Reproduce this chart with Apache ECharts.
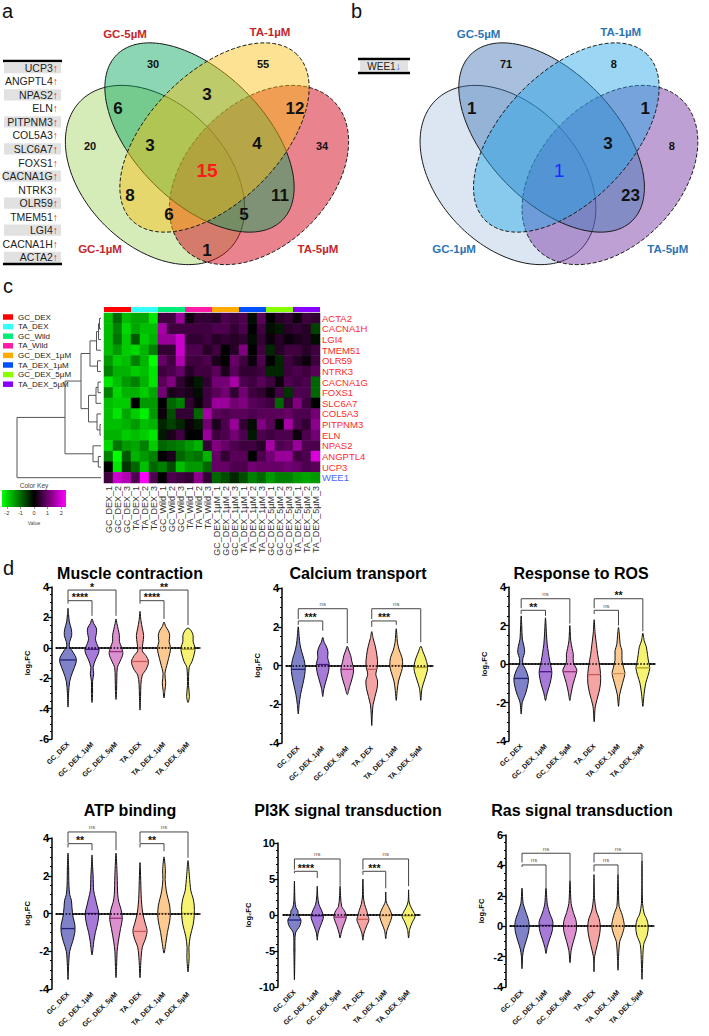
<!DOCTYPE html>
<html><head><meta charset="utf-8">
<script src="https://cdn.jsdelivr.net/npm/echarts@6/dist/echarts.min.js"></script>
<style>html,body{margin:0;padding:0;background:#fff}#c{width:709px;height:1036px}</style>
</head><body><div id="c"></div>
<script>
// ================= DATA =================
// Venn regions order: A,B,C,D,AB,BC,CD,AC,BD,AD,ABC,BCD,ACD,ABD,ABCD  (A=GC-1µM,B=GC-5µM,C=TA-1µM,D=TA-5µM)
const vennSetNames = ['GC-1µM','GC-5µM','TA-1µM','TA-5µM'];
const vennCountsUp = [20,30,55,34,6,3,12,8,11,1,3,4,6,5,15];
const vennCountsDown = [0,71,8,8,1,0,1,0,23,0,0,3,0,0,1];
const upGenes = ['UCP3','ANGPTL4','NPAS2','ELN','PITPNM3','COL5A3','SLC6A7','FOXS1','CACNA1G','NTRK3','OLR59','TMEM51','LGI4','CACNA1H','ACTA2'];
const downGenes = ['WEE1'];

const heatCols = ['GC_DEX_1','GC_DEX_2','GC_DEX_3','TA_DEX_1','TA_DEX_2','TA_DEX_3','GC_Wild_1','GC_Wild_2','GC_Wild_3','TA_Wild_1','TA_Wild_2','TA_Wild_3',
 'GC_DEX_1µM_1','GC_DEX_1µM_2','GC_DEX_1µM_3','TA_DEX_1µM_1','TA_DEX_1µM_2','TA_DEX_1µM_3','GC_DEX_5µM_1','GC_DEX_5µM_2','GC_DEX_5µM_3','TA_DEX_5µM_1','TA_DEX_5µM_2','TA_DEX_5µM_3'];
const heatRows = ['ACTA2','CACNA1H','LGI4','TMEM51','OLR59','NTRK3','CACNA1G','FOXS1','SLC6A7','COL5A3','PITPNM3','ELN','NPAS2','ANGPTL4','UCP3','WEE1'];
const heatValues = [
 [-1.5,-0.8,-1.5,-1.3,-1.3,-1.8, 0.5,0.5,1.2, 0.1,0.4,0.4, 0.3,0.6,0.5, 0.6,-0.1,0.7, 0.0,0.3,0.4, 0.1,0.5,0.4],
 [-1.5,-1.0,-1.7,-1.3,-1.5,-1.5, 1.3,0.5,0.5, 0.5,0.5,0.5, 0.6,0.6,0.4, 0.6,0.0,0.5, -0.1,-0.2,0.3, 0.4,0.3,-0.5],
 [-1.5,-0.9,-1.6,-0.7,-1.6,-1.4, 1.2,1.2,1.6, 0.4,0.4,0.5, 0.3,0.4,0.3, 0.4,-0.1,0.4, 0.1,0.3,0.1, 0.2,0.3,-0.1],
 [-1.5,-1.2,-1.6,-1.7,-1.4,-1.0, 0.4,0.4,1.6, 0.6,0.6,0.3, 0.5,0.0,0.3, 1.0,0.0,0.5, -0.3,0.3,0.5, 0.5,0.3,0.5],
 [-1.2,-1.6,-1.5,-1.0,-1.4,-2.0, 0.8,0.5,1.4, 0.5,0.5,0.6, 0.2,0.0,0.8, 0.5,0.1,0.6, 0.0,-0.3,0.5, 0.3,0.1,0.5],
 [-1.0,-1.4,-1.4,-1.6,-1.5,-1.8, 0.5,0.6,0.8, 0.3,0.5,0.5, 0.7,0.2,0.7, 0.4,0.4,0.5, -0.3,-0.3,0.5, 0.6,0.5,0.7],
 [-1.8,-1.5,-1.2,-1.0,-1.4,-1.8, 0.7,1.0,0.4, 0.1,-0.2,0.4, 0.9,0.9,1.3, 0.6,0.5,0.7, 0.5,0.1,0.6, 0.5,0.6,-0.8],
 [-1.0,-1.7,-1.4,-1.4,-1.6,-1.3, 0.9,0.2,0.3, 0.2,-0.1,0.5, 0.7,0.9,0.4, 0.9,0.5,0.4, 0.1,0.5,-0.4, 0.6,0.6,-0.8],
 [-1.5,-1.6,-1.6,0.0,-1.2,-1.2, 0.0,-0.8,-1.0, 0.4,0.1,0.5, 1.2,1.2,0.9, 1.0,0.7,0.6, 0.5,-0.8,0.4, 1.0,0.5,0.0],
 [-1.5,-1.8,-1.3,-1.6,-1.9,-1.2, 0.1,-0.6,0.4, 0.4,-0.8,1.3, 0.7,0.6,0.7, 0.7,0.6,0.7, 0.7,0.7,0.8, 0.6,0.6,0.9],
 [-1.5,-1.5,-1.4,-1.2,-1.5,-1.4, -0.3,-0.5,-0.3, 0.1,-0.2,0.9, 0.2,0.6,1.2, 0.4,-0.1,1.0, 0.7,0.0,1.3, 0.6,0.4,1.1],
 [-1.4,-1.4,-1.6,-1.5,-1.6,-1.8, -0.2,0.2,0.5, 0.0,0.0,1.2, 0.5,0.6,0.9, 0.6,-0.2,0.6, 0.5,0.6,0.6, 0.1,0.6,0.9],
 [-1.7,-0.9,-1.2,-1.3,-1.0,-1.6, -0.8,-0.9,-1.0, -1.2,-1.4,0.4, 1.0,0.8,0.6, 0.5,0.5,0.3, 1.3,0.6,0.7, 1.2,0.6,0.6],
 [-1.0,-2.0,-0.7,-1.4,-1.2,-1.0, 0.0,0.2,-0.8, -1.0,-0.9,-1.4, 0.8,0.4,0.7, 0.7,0.0,0.6, 0.9,1.2,1.2, 0.5,0.6,1.7],
 [0.0,-1.8,-0.4,-0.8,-1.5,-0.8, -1.0,-0.6,-1.5, -1.2,-1.2,-0.8, 0.8,0.8,0.6, 0.6,0.9,0.8, 0.8,0.8,0.9, 0.8,0.6,0.7],
 [0.5,1.6,1.4,0.6,2.0,0.6, 0.0,0.6,0.5, 0.4,1.1,0.4, -0.8,-0.6,-0.3, -0.6,-1.0,-0.8, -1.2,-1.0,-1.0, -1.2,-1.3,-1.2]
];
const heatGroups = ['GC_DEX','TA_DEX','GC_Wild','TA_Wild','GC_DEX_1µM','TA_DEX_1µM','GC_DEX_5µM','TA_DEX_5µM'];
const heatColGroup = [0,0,0,1,1,1,2,2,2,3,3,3,4,4,4,5,5,5,6,6,6,7,7,7];
// dendrogram merges: [left, right, height]; 0-15 = leaf rows, 100+k = k-th merge
const dendroMerges = [
 [0,1,1.5],[100,2,2.5],[101,3,4.5],[4,5,3.5],[102,103,11],
 [6,7,3],[105,8,5],[10,11,1],[9,107,4],[106,108,12.5],
 [104,109,20],[13,14,2.7],[12,111,8],[110,112,36],[113,15,84]
];
const colorKeyTicks = [-2,-1,0,1,2];

const violinCats = ['GC_DEX','GC_DEX_1µM','GC_DEX_5µM','TA_DEX','TA_DEX_1µM','TA_DEX_5µM'];
// violin profiles: [log2FC, relative half width]
const muscleViolins = [
 [[-3.9,0],[-3.0,0.05],[-2.2,0.15],[-1.6,0.4],[-1.0,0.7],[-0.7,0.72],[-0.3,0.45],[0.1,0.12],[0.4,0.15],[0.8,0.32],[1.2,0.3],[1.7,0.12],[2.2,0.05],[2.6,0]],
 [[-3.6,0],[-3.0,0.05],[-2.2,0.05],[-1.7,0.15],[-1.3,0.1],[-0.8,0.3],[-0.4,0.55],[-0.1,0.62],[0.3,0.4],[0.6,0.3],[1.0,0.4],[1.3,0.38],[1.6,0.15],[1.9,0]],
 [[-3.4,0],[-2.8,0.05],[-2.0,0.07],[-1.3,0.12],[-0.9,0.35],[-0.4,0.6],[0.0,0.5],[0.4,0.3],[0.8,0.3],[1.2,0.2],[1.6,0.08],[1.9,0]],
 [[-4.1,0],[-3.2,0.05],[-2.4,0.08],[-1.8,0.2],[-1.4,0.55],[-0.9,0.75],[-0.5,0.5],[-0.2,0.2],[0.3,0.25],[0.8,0.32],[1.3,0.2],[1.8,0.08],[2.4,0]],
 [[-3.3,0],[-2.8,0.08],[-2.3,0.15],[-1.7,0.08],[-1.0,0.3],[-0.4,0.5],[0.0,0.58],[0.4,0.45],[0.8,0.5],[1.1,0.4],[1.4,0.15],[1.7,0]],
 [[-3.6,0],[-3.2,0.12],[-2.5,0.05],[-1.3,0.1],[-0.9,0.35],[-0.4,0.55],[0.0,0.62],[0.4,0.45],[0.8,0.45],[1.1,0.3],[1.3,0]]
];
const muscleMedians = [-0.8,-0.1,-0.25,-0.9,0.0,-0.1];
const muscleSig = [[0,1,3.1,2.9,2.1,'****'],[0,2,3.8,3.1,2.1,'*'],[3,4,3.1,2.9,1.9,'****'],[3,5,3.8,3.1,1.5,'**']];

const calciumViolins = [
 [[-2.5,0],[-2.0,0.08],[-1.5,0.2],[-1.0,0.38],[-0.5,0.55],[-0.1,0.6],[0.3,0.5],[0.7,0.3],[1.1,0.15],[1.5,0.08],[2.0,0]],
 [[-1.6,0],[-1.2,0.1],[-0.8,0.28],[-0.3,0.5],[0.1,0.55],[0.4,0.42],[0.7,0.45],[1.0,0.3],[1.2,0.12],[1.45,0]],
 [[-1.5,0],[-1.1,0.2],[-0.6,0.45],[-0.2,0.55],[0.2,0.4],[0.5,0.3],[0.8,0.12],[1.0,0]],
 [[-3.1,0],[-2.5,0.05],[-2.0,0.12],[-1.2,0.45],[-0.8,0.5],[-0.45,0.35],[0.0,0.5],[0.5,0.45],[1.0,0.3],[1.4,0.12],[1.75,0]],
 [[-1.8,0],[-1.3,0.08],[-0.8,0.2],[-0.3,0.45],[0.0,0.55],[0.4,0.5],[0.8,0.25],[1.2,0.1],[1.6,0.05],[1.9,0]],
 [[-1.8,0],[-1.2,0.1],[-0.7,0.35],[-0.3,0.55],[0.0,0.58],[0.4,0.4],[0.7,0.2],[1.0,0]]
];
const calciumMedians = [-0.2,0.05,-0.2,-0.2,0.0,-0.1];
const calciumSig = [[0,1,2.3,2.1,1.8,'***'],[0,2,2.93,2.4,1.15,'ns'],[3,4,2.3,2.0,2.1,'***'],[3,5,2.93,2.4,1.2,'ns']];

const rosViolins = [
 [[-2.6,0],[-2.0,0.1],[-1.5,0.4],[-1.0,0.6],[-0.7,0.62],[-0.3,0.4],[0.0,0.15],[0.3,0.15],[0.6,0.3],[0.9,0.25],[1.3,0.1],[2.0,0.05],[2.5,0]],
 [[-1.9,0],[-1.5,0.15],[-1.0,0.4],[-0.5,0.55],[-0.2,0.5],[0.2,0.35],[0.6,0.25],[1.0,0.15],[1.6,0.08],[2.4,0]],
 [[-1.9,0],[-1.5,0.12],[-1.0,0.3],[-0.5,0.55],[-0.3,0.6],[0.1,0.3],[0.5,0.3],[0.8,0.2],[1.2,0.08],[2.0,0]],
 [[-3.0,0],[-2.2,0.1],[-1.5,0.4],[-1.0,0.55],[-0.5,0.55],[0.0,0.45],[0.5,0.3],[1.0,0.2],[1.6,0.08],[2.3,0]],
 [[-2.2,0],[-1.6,0.1],[-1.0,0.35],[-0.5,0.55],[-0.2,0.45],[0.2,0.3],[0.7,0.3],[1.0,0.15],[1.5,0.08],[1.9,0]],
 [[-2.2,0],[-1.6,0.1],[-1.0,0.25],[-0.6,0.45],[-0.2,0.6],[0.1,0.5],[0.5,0.4],[0.9,0.3],[1.2,0.12],[1.6,0]]
];
const rosMedians = [-0.75,-0.4,-0.4,-0.55,-0.5,-0.2];
const rosSig = [[0,1,2.79,2.6,2.5,'**'],[0,2,3.39,2.9,2.1,'ns'],[3,4,2.79,2.6,2.0,'ns'],[3,5,3.39,2.9,1.7,'**']];

const atpViolins = [
 [[-3.5,0],[-2.8,0.05],[-2.0,0.15],[-1.5,0.4],[-1.0,0.6],[-0.6,0.6],[-0.2,0.45],[0.3,0.35],[0.7,0.3],[1.0,0.15],[1.5,0.08],[2.5,0.05],[3.2,0]],
 [[-2.2,0],[-1.8,0.1],[-1.5,0.15],[-1.0,0.3],[-0.5,0.5],[0.0,0.6],[0.4,0.45],[0.8,0.3],[1.2,0.15],[2.0,0.1],[2.5,0.05],[3.1,0]],
 [[-3.4,0],[-2.8,0.05],[-2.0,0.1],[-1.5,0.2],[-0.8,0.4],[-0.3,0.55],[0.2,0.45],[0.6,0.25],[1.0,0.15],[2.0,0.1],[3.2,0]],
 [[-3.4,0],[-2.5,0.08],[-1.8,0.2],[-1.3,0.5],[-0.9,0.62],[-0.5,0.45],[0.0,0.25],[0.5,0.15],[1.0,0.1],[2.0,0.05],[2.7,0]],
 [[-2.1,0],[-1.6,0.15],[-1.0,0.3],[-0.4,0.5],[0.0,0.55],[0.4,0.5],[0.8,0.35],[1.2,0.2],[1.8,0.1],[2.3,0.12],[3.0,0]],
 [[-3.1,0],[-2.3,0.1],[-1.8,0.08],[-1.2,0.2],[-0.6,0.45],[-0.1,0.55],[0.4,0.55],[0.8,0.45],[1.2,0.25],[2.0,0.12],[2.8,0]]
];
const atpMedians = [-0.8,0.0,-0.25,-0.95,0.0,0.0];
const atpSig = [[0,1,3.7,3.5,3.35,'**'],[0,2,4.32,3.75,3.35,'ns'],[3,4,3.7,3.5,3.3,'**'],[3,5,4.32,3.75,2.95,'ns']];

const pi3kViolins = [
 [[-9.0,0],[-5.0,0.05],[-2.5,0.1],[-1.5,0.5],[-0.7,0.6],[0.0,0.35],[0.6,0.32],[1.0,0.15],[2.0,0.05],[4.7,0]],
 [[-3.5,0],[-2.5,0.08],[-1.5,0.3],[-0.5,0.55],[0.0,0.55],[0.8,0.35],[1.5,0.15],[2.5,0.05],[4.0,0]],
 [[-3.2,0],[-2.5,0.1],[-1.5,0.3],[-0.5,0.55],[0.0,0.55],[0.6,0.4],[1.2,0.15],[2.5,0.05],[4.0,0]],
 [[-3.5,0],[-2.5,0.1],[-1.5,0.35],[-0.7,0.55],[0.0,0.45],[0.6,0.35],[1.5,0.15],[2.5,0.05],[5.0,0]],
 [[-3.3,0],[-2.2,0.1],[-1.2,0.35],[-0.3,0.55],[0.3,0.5],[1.0,0.3],[1.8,0.05],[3.2,0]],
 [[-3.2,0],[-2.0,0.1],[-1.0,0.35],[-0.2,0.6],[0.3,0.5],[1.0,0.25],[1.8,0.05],[3.5,0]]
];
const pi3kMedians = [-0.7,-0.1,-0.3,-0.6,-0.1,-0.1];
const pi3kSig = [[0,1,6.07,5.8,5.14,'****'],[0,2,7.78,6.3,4.07,'ns'],[3,4,6.07,5.6,3.7,'***'],[3,5,7.78,6.3,4.0,'ns']];

const rasViolins = [
 [[-2.8,0],[-2.0,0.05],[-1.5,0.15],[-1.0,0.35],[-0.3,0.6],[0.3,0.6],[0.9,0.35],[1.5,0.1],[2.5,0]],
 [[-1.8,0],[-1.4,0.1],[-0.9,0.3],[-0.3,0.55],[0.3,0.6],[0.8,0.35],[1.4,0.12],[2.5,0]],
 [[-2.4,0],[-1.6,0.1],[-1.0,0.3],[-0.3,0.55],[0.3,0.55],[0.9,0.3],[1.5,0.1],[3.0,0]],
 [[-3.0,0],[-2.0,0.05],[-1.2,0.3],[-0.5,0.5],[0.0,0.55],[0.5,0.45],[1.0,0.2],[1.8,0.05],[3.4,0]],
 [[-2.9,0],[-2.0,0.05],[-1.0,0.15],[-0.6,0.35],[0.0,0.55],[0.5,0.45],[0.9,0.3],[1.3,0.1],[2.0,0.05],[3.4,0]],
 [[-3.5,0],[-2.5,0.05],[-1.2,0.15],[-0.6,0.45],[0.0,0.55],[0.5,0.4],[0.8,0.2],[1.5,0.05],[4.3,0]]
];
const rasMedians = [0,0.05,0,0,0,0];
const rasSig = [[0,1,4.03,3.9,2.5,'ns'],[0,2,4.8,4.2,3.0,'ns'],[3,4,4.03,3.6,3.4,'ns'],[3,5,4.8,4.2,4.3,'ns']];

// ================= LAYOUT / STYLE =================
const FF = '"Liberation Sans", Arial, Helvetica, sans-serif';
// ellipse geometry in venn grid units: [cx, cy, a, b, angleDeg]
const vennEllipses = [[105,105,105,71,135],[149.5,142.5,117,65,135],[164.5,142.5,117,65,45],[209,105,105,71,45]];
const vennDrawOrder = [0,3,1,2];
const vennDashed = [false,false,true,true];
const vennRegionPos = [[40,134],[103,216],[213,216],[272,134],[68,172],[157,186],[245,172],[80,85],[230,85],[157,30],[100,135],[207,137],[119,66],[194,66],[157,110]];
const vennRegionFont = [11,11,11,11,17,17,17,17,17,17,17,17,17,17,19];
const vennSetLabelPos = [[50,31],[75,246],[220,248],[268,31]];
const vennFillsA = ['rgba(164,213,97,0.45)','rgba(0,164,88,0.45)','rgba(251,191,15,0.45)','rgba(211,9,31,0.5)'];
const vennFillsB = ['rgba(177,199,226,0.45)','rgba(62,115,182,0.45)','rgba(33,166,233,0.45)','rgba(125,65,169,0.5)'];
const groupColors = ['#ff0000','#33ffff','#00ee77','#ff1aa8','#ffaa00','#0050ff','#88ff00','#8800ff'];
const violinFills = ['#7f82c8','#a57ad9','#dc90cf','#f5a3a3','#fcc990','#f6f272'];
const violinMedCol = ['#20207a','#4a148a','#9a2e7e','#c85a5a','#d6955a','#b0a020'];

const violinPanels = [
 {title:'Muscle contraction', prof:muscleViolins, med:muscleMedians, sig:muscleSig, min:-6, max:4, interval:2, minor:4,
  grid:{left:56, top:587, width:144, height:152}, off:4, gap:21, tx:130, ty:565},
 {title:'Calcium transport', prof:calciumViolins, med:calciumMedians, sig:calciumSig, min:-4, max:4, interval:2, minor:4,
  grid:{left:286, top:588, width:147, height:155}, off:4, gap:21, tx:358, ty:565},
 {title:'Response to ROS', prof:rosViolins, med:rosMedians, sig:rosSig, min:-4, max:4, interval:2, minor:4,
  grid:{left:509, top:587, width:146, height:154}, off:0, gap:21, tx:581, ty:565},
 {title:'ATP binding', prof:atpViolins, med:atpMedians, sig:atpSig, min:-4, max:4, interval:2, minor:4,
  grid:{left:56, top:838, width:144, height:151}, off:4, gap:21, tx:130, ty:802},
 {title:'PI3K signal transduction', prof:pi3kViolins, med:pi3kMedians, sig:pi3kSig, min:-10, max:10, interval:5, minor:5,
  grid:{left:283, top:843, width:137, height:144}, off:5, gap:26, tx:348, ty:802},
 {title:'Ras signal transduction', prof:rasViolins, med:rasMedians, sig:rasSig, min:-4, max:6, interval:2, minor:4,
  grid:{left:510, top:835, width:144, height:152}, off:4, gap:21, tx:582, ty:802}
];

// ================= BUILD =================
const chart = echarts.init(document.getElementById('c'), null, {renderer:'svg', width:709, height:1036});
const grids=[], xAxes=[], yAxes=[], series=[], titles=[], graphics=[];

function txtStyle(o){ const s = Object.assign({fontFamily:FF}, o); if(s.align){s.textAlign=s.align;} if(s.verticalAlign){s.textVerticalAlign=s.verticalAlign;} return s; }

// ---- Venn panels (grid 0 and 1)
function addVenn(gi, left, counts, fills, setColor, centerColor){
  grids.push({left:left, top:0, width:310, height:280});
  xAxes.push({gridIndex:gi, type:'value', min:0, max:310, show:false});
  yAxes.push({gridIndex:gi, type:'value', min:0, max:280, show:false});
  series.push({type:'custom', xAxisIndex:gi, yAxisIndex:gi, silent:true, z:2,
    data: vennDrawOrder.map(k=>vennEllipses[k]),
    renderItem:(params, api)=>{
      const i = vennDrawOrder[params.dataIndex];
      const cx=api.value(0), cy=api.value(1), a=api.value(2), b=api.value(3), ang=api.value(4)*Math.PI/180;
      const pts=[];
      for(let k=0;k<160;k++){ const t=k/160*2*Math.PI;
        pts.push(api.coord([cx + a*Math.cos(t)*Math.cos(ang) - b*Math.sin(t)*Math.sin(ang),
                            cy + a*Math.cos(t)*Math.sin(ang) + b*Math.sin(t)*Math.cos(ang)])); }
      return {type:'polygon', shape:{points:pts}, style:{fill:fills[i], stroke:'#1a1a1a', lineWidth:1, lineDash: vennDashed[i]?[4,2]:null}};
    }});
  series.push({type:'custom', xAxisIndex:gi, yAxisIndex:gi, silent:true, z:5,
    data: vennRegionPos.map((p,i)=>[p[0],p[1],counts[i]]),
    renderItem:(params, api)=>{
      const i=params.dataIndex, n=api.value(2);
      if(!n) return {type:'group', children:[]};
      const p=api.coord([api.value(0), api.value(1)]);
      const center = i===14;
      return {type:'text', x:p[0], y:p[1], style:txtStyle({text:String(n), align:'center', verticalAlign:'middle',
        fontSize:vennRegionFont[i], fontWeight:(center && gi===1)?'normal':'bold', fill: center?centerColor:'#111'})};
    }});
  series.push({type:'custom', xAxisIndex:gi, yAxisIndex:gi, silent:true, z:5,
    data: vennSetLabelPos.map((p,i)=>[p[0],p[1],i]),
    renderItem:(params, api)=>{
      const p=api.coord([api.value(0), api.value(1)]);
      return {type:'text', x:p[0], y:p[1], style:txtStyle({text:vennSetNames[params.dataIndex], align:'center', verticalAlign:'middle', fontSize:11.5, fontWeight:'bold', fill:setColor})};
    }});
}
addVenn(0, 50, vennCountsUp, vennFillsA, '#c1272d', '#ff1a1a');
addVenn(1, 405, vennCountsDown, vennFillsB, '#2e75b6', '#1a2cff');

// ---- Dendrogram (grid 2)
grids.push({left:16, top:313, width:85, height:170});
xAxes.push({gridIndex:2, type:'value', min:0, max:85, inverse:true, show:false});
yAxes.push({gridIndex:2, type:'value', min:-0.5, max:15.5, inverse:true, show:false});
const clusters=[], dSegs=[];
const nodeOf = r => r>=100 ? clusters[r-100] : {y:r, h:0};
dendroMerges.forEach(m=>{ const L=nodeOf(m[0]), R=nodeOf(m[1]);
  dSegs.push([L.h,L.y,m[2],L.y],[R.h,R.y,m[2],R.y],[m[2],L.y,m[2],R.y]);
  clusters.push({y:(L.y+R.y)/2, h:m[2]}); });
series.push({type:'custom', xAxisIndex:2, yAxisIndex:2, silent:true, data:dSegs,
  renderItem:(params, api)=>{ const a=api.coord([api.value(0),api.value(1)]), b=api.coord([api.value(2),api.value(3)]);
    return {type:'line', shape:{x1:a[0],y1:a[1],x2:b[0],y2:b[1]}, style:{stroke:'#555', lineWidth:1}}; }});

// ---- Heatmap (grid 3)
grids.push({left:104, top:313, width:216, height:170});
xAxes.push({gridIndex:3, type:'category', data:heatCols, axisLine:{show:false}, axisTick:{show:false}, splitLine:{show:false},
  axisLabel:{rotate:90, fontSize:9, interval:0, margin:3, color:'#333', fontFamily:FF}});
yAxes.push({gridIndex:3, type:'category', data:heatRows, inverse:true, position:'right', axisLine:{show:false}, axisTick:{show:false},
  axisLabel:{fontSize:9.5, interval:0, margin:2, fontFamily:FF, color:(v)=> downGenes.indexOf(v)>=0 ? '#4a66ff' : '#ff2a2a'}});
const heatData=[];
heatValues.forEach((row,r)=>row.forEach((v,c)=>heatData.push([c,r,v])));
const heatSeriesIndex = series.length;
series.push({type:'heatmap', xAxisIndex:3, yAxisIndex:3, data:heatData, silent:true, itemStyle:{borderWidth:0}});

// ---- group colour bar (grid 4)
grids.push({left:104, top:307, width:216, height:5});
xAxes.push({gridIndex:4, type:'category', data:heatCols, show:false});
yAxes.push({gridIndex:4, type:'value', min:0, max:1, show:false});
heatGroups.forEach((g,gi)=>{
  series.push({type:'bar', name:g, xAxisIndex:4, yAxisIndex:4, barWidth:'100%', barGap:'-100%', silent:true,
    itemStyle:{color:groupColors[gi]}, data: heatColGroup.map(k=> k===gi ? 1 : '-')});
});

// ---- Colour key (grid 5)
grids.push({left:2, top:490, width:64, height:17});
xAxes.push({gridIndex:5, type:'value', min:-2.35, max:2.35, splitLine:{show:false}, axisLine:{show:false},
  axisTick:{show:true, length:2, customValues:colorKeyTicks, lineStyle:{color:'#444', width:0.6}},
  axisLabel:{fontSize:5.5, margin:3, color:'#333', customValues:colorKeyTicks, fontFamily:FF}});
yAxes.push({gridIndex:5, type:'value', min:0, max:1, show:false});
series.push({type:'custom', xAxisIndex:5, yAxisIndex:5, silent:true, data:[[-2.35, 2.35]], encode:{x:[0,1]},
  renderItem:(params, api)=>{ const p0=api.coord([api.value(0),1]), p1=api.coord([api.value(1),0]);
    return {type:'rect', shape:{x:p0[0], y:p0[1], width:p1[0]-p0[0], height:p1[1]-p0[1]},
      style:{fill:new echarts.graphic.LinearGradient(0,0,1,0,[{offset:0,color:'#00ff00'},{offset:0.5,color:'#000000'},{offset:1,color:'#ff00ff'}])}}; }});

// ---- Violin panels (grid 6..11)
function violinRender(prof, med){
  return (params, api)=>{
    const i = api.value(0);
    const pr = prof[i];
    const half = api.size([1,0])[0]/2*0.95;
    const cx = api.coord([i,0])[0];
    const left=[], right=[];
    pr.forEach(([v,w])=>{ const y=api.coord([i,v])[1]; left.push([cx-w*half,y]); right.push([cx+w*half,y]); });
    const pts = left.concat(right.slice(1,-1).reverse());
    const m = med[i]; let mw = 0;
    for(let k=0;k<pr.length-1;k++){ if(m>=pr[k][0] && m<=pr[k+1][0]){ const f=(m-pr[k][0])/(pr[k+1][0]-pr[k][0]); mw = pr[k][1]+(pr[k+1][1]-pr[k][1])*f; break; } }
    const my = api.coord([i,m])[1];
    return {type:'group', children:[
      {type:'polygon', shape:{points:pts, smooth:0.3}, style:{fill:violinFills[i], stroke:'#111', lineWidth:1}},
      {type:'line', shape:{x1:cx-mw*half, y1:my, x2:cx+mw*half, y2:my}, style:{stroke:violinMedCol[i], lineWidth:1.3}}
    ]};
  };
}
function bracketRender(sig){
  return (params, api)=>{
    const b = sig[params.dataIndex];
    const p1=api.coord([b[0],b[2]]), p2=api.coord([b[1],b[2]]);
    const l=api.coord([b[0],b[3]]), r=api.coord([b[1],b[4]]);
    const ns = b[5]==='ns';
    return {type:'group', children:[
      {type:'polyline', shape:{points:[[p1[0],l[1]],[p1[0],p1[1]],[p2[0],p2[1]],[p2[0],r[1]]]}, style:{stroke:'#444', lineWidth:1, fill:null}},
      {type:'text', x:(p1[0]+p2[0])/2, y: ns ? p1[1]-1.5 : p1[1]-3.5,
        style:txtStyle({text:b[5], align:'center', verticalAlign: ns?'bottom':'middle', fontSize: ns?6:10.5, fontWeight: ns?'normal':'bold', fill: ns?'#555':'#111'})}
    ]};
  };
}
violinPanels.forEach((vp,k)=>{
  const gi = 6+k;
  grids.push(vp.grid);
  xAxes.push({gridIndex:gi, type:'category', data:violinCats,
    axisLine:{lineStyle:{color:'#000', width:1.5}}, axisTick:{alignWithLabel:true, length:3, lineStyle:{color:'#000', width:1.2}},
    axisLabel:{rotate:45, fontSize:7, fontWeight:'bold', color:'#111', interval:0, margin:4, fontFamily:FF}});
  yAxes.push({gridIndex:gi, type:'value', min:vp.min, max:vp.max, interval:vp.interval, offset:vp.off,
    axisLine:{show:true, lineStyle:{color:'#000', width:1.5}}, axisTick:{show:true, length:4, lineStyle:{color:'#000', width:1.3}},
    minorTick:{show:true, splitNumber:vp.minor, length:2, lineStyle:{color:'#000', width:1}},
    splitLine:{show:false}, minorSplitLine:{show:false},
    axisLabel:{fontSize:11, fontWeight:'bold', color:'#000', margin:3, fontFamily:FF},
    name:'log₂FC', nameLocation:'middle', nameGap:vp.gap, nameTextStyle:{fontSize:7.5, fontWeight:'bold', color:'#000', fontFamily:FF}});
  series.push({type:'custom', xAxisIndex:gi, yAxisIndex:gi, silent:true, z:3,
    data: violinCats.map((c,i)=>[i, vp.med[i]]), renderItem: violinRender(vp.prof, vp.med),
    markLine:{silent:true, symbol:['none','none'], label:{show:false}, lineStyle:{type:'dotted', color:'#000', width:1.6}, data:[{yAxis:0}], z:4}});
  series.push({type:'custom', xAxisIndex:gi, yAxisIndex:gi, silent:true, z:4,
    data: vp.sig.map(s=>[s[0], s[2]]), renderItem: bracketRender(vp.sig)});
  titles.push({text:vp.title, left:vp.tx, top:vp.ty, textAlign:'center', padding:0,
    textStyle:{fontSize:16, fontWeight:'bold', color:'#000', fontFamily:FF}});
});

// ---- panel letters
[['a',2,1],['b',351,1],['c',3,276],['d',3,558]].forEach(([t,x,y])=>{
  titles.push({text:t, left:x, top:y, padding:0, textStyle:{fontSize:20, fontWeight:'normal', color:'#111', fontFamily:FF, lineHeight:20}});
});

// ---- gene tables (graphic text)
const tTop = 61, tBot = 264, tRow = (tBot-tTop)/upGenes.length;
graphics.push({type:'line', shape:{x1:3,y1:tTop,x2:62,y2:tTop}, style:{stroke:'#000', lineWidth:2.5}});
upGenes.forEach((g,i)=>{
  const yc = tTop + tRow*(i+0.5);
  if(i%2===0) graphics.push({type:'rect', shape:{x:4, y:yc-5.6, width:57, height:11.2}, style:{fill:'#e1e1e1'}});
  graphics.push({type:'text', x:58, y:yc, style:txtStyle({text:'{n|'+g+'}{u|↑}', align:'right', verticalAlign:'middle', fontSize:10.5,
    rich:{n:{fontSize:10.5, fill:'#222', color:'#222', fontFamily:FF}, u:{fontSize:10.5, fill:'#ff2020', color:'#ff2020', fontFamily:FF}}})});
});
graphics.push({type:'line', shape:{x1:3,y1:tBot,x2:62,y2:tBot}, style:{stroke:'#000', lineWidth:2.5}});
graphics.push({type:'line', shape:{x1:358,y1:59,x2:410,y2:59}, style:{stroke:'#000', lineWidth:2.3}});
graphics.push({type:'rect', shape:{x:360, y:61, width:48, height:10}, style:{fill:'#e1e1e1'}});
graphics.push({type:'text', x:384, y:66.3, style:txtStyle({text:'{n|'+downGenes[0]+'}{d|↓}', align:'center', verticalAlign:'middle', fontSize:10,
  rich:{n:{fontSize:10, fill:'#222', color:'#222', fontFamily:FF}, d:{fontSize:10, fill:'#3050ff', color:'#3050ff', fontFamily:FF}}})});
graphics.push({type:'line', shape:{x1:358,y1:73,x2:410,y2:73}, style:{stroke:'#000', lineWidth:2.3}});
graphics.push({type:'text', x:34, y:485, style:txtStyle({text:'Color Key', align:'center', verticalAlign:'middle', fontSize:6.5, fill:'#444'})});
graphics.push({type:'text', x:34, y:523, style:txtStyle({text:'Value', align:'center', verticalAlign:'middle', fontSize:5, fill:'#444'})});

chart.setOption({
  animation:false,
  backgroundColor:'#ffffff',
  textStyle:{fontFamily:FF},
  title:titles,
  grid:grids, xAxis:xAxes, yAxis:yAxes,
  legend:{data:heatGroups, orient:'vertical', left:3, top:313, itemWidth:10, itemHeight:5.5, itemGap:1.6, icon:'rect', padding:0,
    selectedMode:false, textStyle:{fontSize:8, color:'#222', lineHeight:6, fontFamily:FF}},
  visualMap:{type:'continuous', show:false, min:-2, max:2, seriesIndex:heatSeriesIndex, dimension:2,
    inRange:{color:['#00ff00','#000000','#ff00ff']}},
  graphic:{elements:graphics},
  series:series
});
</script>
</body></html>
